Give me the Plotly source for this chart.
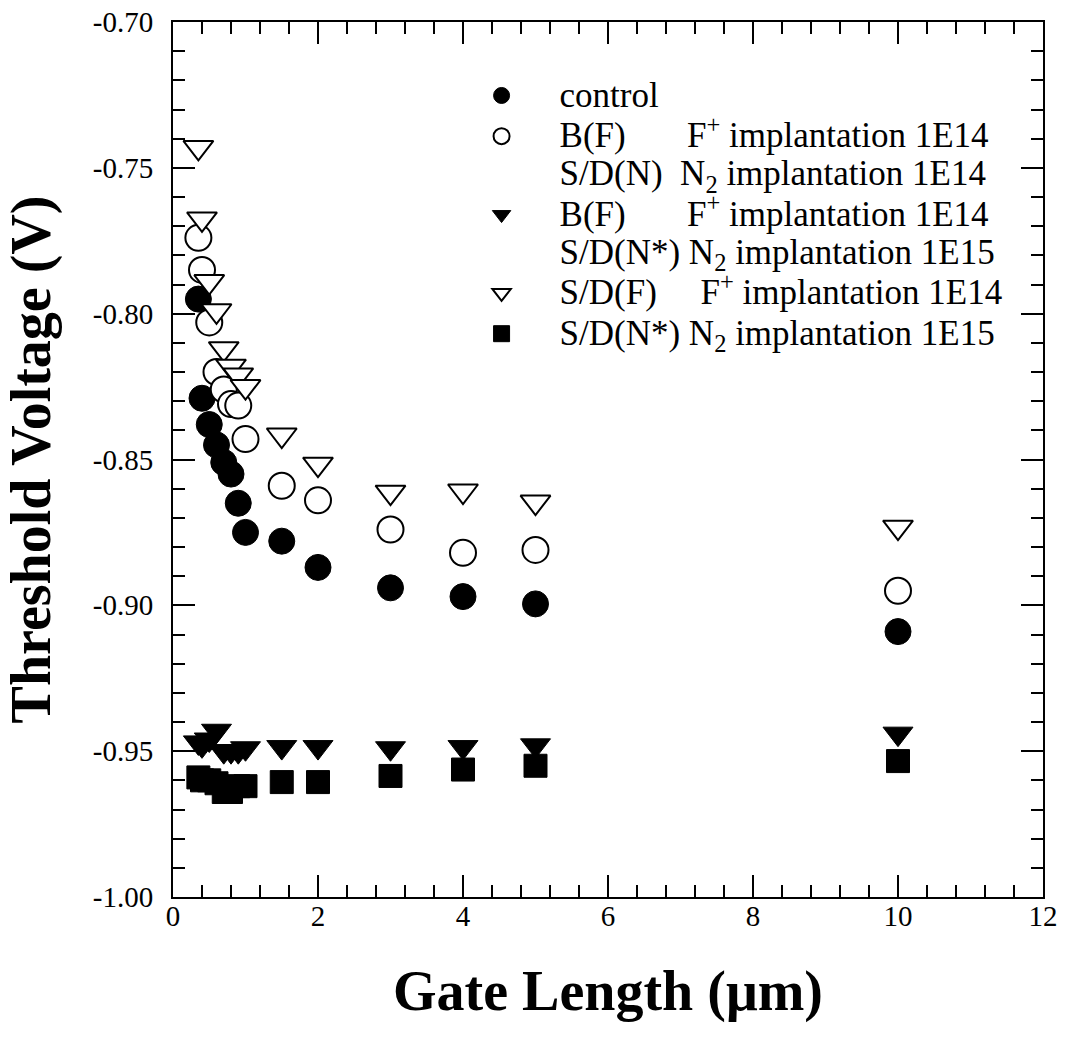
import plotly.graph_objects as go

# ---- data ----
gate_length = [0.35, 0.4, 0.5, 0.6, 0.7, 0.8, 0.9, 1.0, 1.5, 2, 3, 4, 5, 10]

vt_control = [-0.795, -0.829, -0.838, -0.845, -0.851, -0.855, -0.865, -0.875,
              -0.878, -0.887, -0.894, -0.897, -0.8995, -0.909]
vt_bf_sdn = [-0.774, -0.785, -0.803, -0.820, -0.826, -0.831, -0.8315, -0.843,
             -0.859, -0.864, -0.874, -0.882, -0.881, -0.895]
vt_bf_sdnstar = [-0.947, -0.948, -0.946, -0.943, -0.950, -0.950, -0.950, -0.949,
                 -0.9486, -0.9486, -0.949, -0.9486, -0.948, -0.944]
vt_sdf = [-0.743, -0.7675, -0.789, -0.799, -0.812, -0.818, -0.821, -0.825,
          -0.8416, -0.8516, -0.8612, -0.8608, -0.8646, -0.8732]
vt_sdnstar = [-0.959, -0.960, -0.960, -0.961, -0.964, -0.964, -0.962, -0.962,
              -0.9606, -0.9606, -0.9585, -0.9563, -0.955, -0.9534]

y_tick_vals = [-1.00, -0.95, -0.90, -0.85, -0.80, -0.75, -0.70]
y_tick_text = ["-1.00", "-0.95", "-0.90", "-0.85", "-0.80", "-0.75", "-0.70"]
x_tick_vals = [0, 2, 4, 6, 8, 10, 12]
x_tick_text = ["0", "2", "4", "6", "8", "10", "12"]

NB = "\u00a0"


def big(s):
    return '<span style="font-size:35px">' + s + "</span>"


name_control = big("control")
name_bf_sdn = (big("B(F)" + NB * 7 + "F<sup>+</sup> implantation 1E14") + "<br>"
               + big("S/D(N)" + NB * 2 + "N<sub>2</sub> implantation 1E14"))
name_bf_sdnstar = (big("B(F)" + NB * 7 + "F<sup>+</sup> implantation 1E14") + "<br>"
                   + big("S/D(N*)" + NB * 1 + "N<sub>2</sub> implantation 1E15"))
name_sdf = big("S/D(F)" + NB * 5 + "F<sup>+</sup> implantation 1E14")
name_sdnstar = big("S/D(N*)" + NB * 1 + "N<sub>2</sub> implantation 1E15")

FONT = "Liberation Serif, Times New Roman, serif"

fig = go.Figure()

# drawing order: filled triangles, squares, control, open circles, open triangles
fig.add_trace(go.Scatter(
    x=gate_length, y=vt_bf_sdnstar, mode="markers", name=name_bf_sdnstar,
    legendrank=3,
    marker=dict(symbol="triangle-down", size=26, color="black",
                line=dict(color="black", width=1))))
fig.add_trace(go.Scatter(
    x=gate_length, y=vt_sdnstar, mode="markers", name=name_sdnstar,
    legendrank=5,
    marker=dict(symbol="square", size=23, color="black",
                line=dict(color="black", width=1))))
fig.add_trace(go.Scatter(
    x=gate_length, y=vt_control, mode="markers", name=name_control,
    legendrank=1,
    marker=dict(symbol="circle", size=26, color="black",
                line=dict(color="black", width=1))))
fig.add_trace(go.Scatter(
    x=gate_length, y=vt_bf_sdn, mode="markers", name=name_bf_sdn,
    legendrank=2,
    marker=dict(symbol="circle", size=26, color="white",
                line=dict(color="black", width=2))))
fig.add_trace(go.Scatter(
    x=gate_length, y=vt_sdf, mode="markers", name=name_sdf,
    legendrank=4,
    marker=dict(symbol="triangle-down", size=26, color="white",
                line=dict(color="black", width=2))))

axis_common = dict(
    showgrid=False, zeroline=False, showline=True, linecolor="black",
    linewidth=2, mirror="allticks", ticks="inside", ticklen=22,
    tickwidth=2, tickcolor="black", automargin=False,
    tickfont=dict(family=FONT, size=29, color="black"),
)

fig.update_xaxes(
    **axis_common,
    range=[0, 12], autorange=False,
    tickmode="array", tickvals=x_tick_vals, ticktext=x_tick_text,
    minor=dict(dtick=0.4, tick0=0, ticks="inside", ticklen=12,
               tickwidth=1.5, tickcolor="black"),
    ticklabelstandoff=-8,
    title=dict(text="Gate Length (\u03bcm)",
               font=dict(family=FONT, size=56, color="black", weight="bold"),
               standoff=40),
)
fig.update_yaxes(
    **axis_common,
    range=[-1.0, -0.70], autorange=False,
    tickmode="array", tickvals=y_tick_vals, ticktext=y_tick_text,
    minor=dict(dtick=0.01, tick0=-1.0, ticks="inside", ticklen=12,
               tickwidth=1.5, tickcolor="black"),
    ticklabelstandoff=12,
    title=dict(text="Threshold Voltage (V)",
               font=dict(family=FONT, size=56, color="black", weight="bold"),
               standoff=30),
)

fig.update_layout(
    width=1070, height=1045,
    margin=dict(l=173, r=27, t=22, b=148, autoexpand=False),
    paper_bgcolor="white", plot_bgcolor="white",
    font=dict(family=FONT, color="black"),
    showlegend=True,
    legend=dict(
        x=0.311, y=0.945, xanchor="left", yanchor="top",
        bgcolor="rgba(0,0,0,0)", borderwidth=0,
        font=dict(family=FONT, size=29, color="black"),
        valign="top", itemwidth=106, tracegroupgap=0,
        traceorder="normal",
    ),
)

fig.write_html("out.html")
